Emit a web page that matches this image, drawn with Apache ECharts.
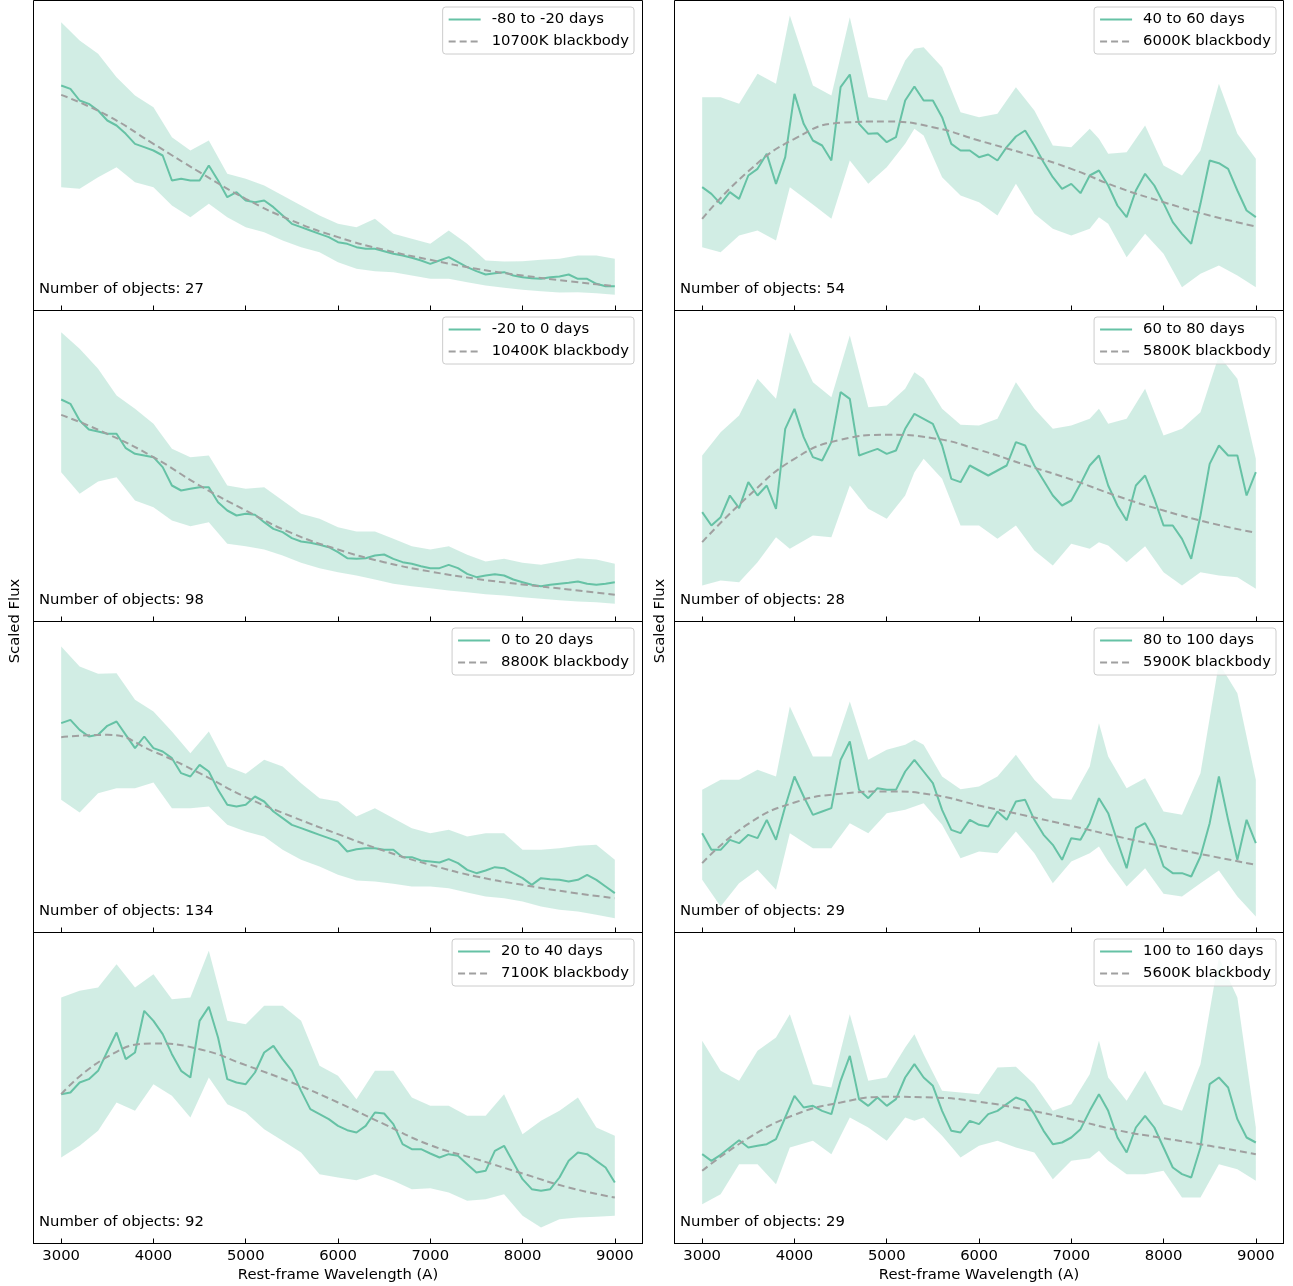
<!DOCTYPE html>
<html><head><meta charset="utf-8">
<script src="https://cdn.jsdelivr.net/npm/echarts@6/dist/echarts.min.js"></script>
<style>html,body{margin:0;padding:0;background:#fff}#c{width:1293px;height:1286px}</style>
</head><body><div id="c"></div>
<script>
// ---------- DATA (flux in arbitrary scaled units) ----------
const wave = [3000,3100,3200,3300,3400,3500,3600,3700,3800,3900,4000,4100,4200,4300,4400,4500,4600,4700,4800,4900,5000,5100,5200,5300,5400,5500,5600,5700,5800,5900,6000,6100,6200,6300,6400,6500,6600,6700,6800,6900,7000,7100,7200,7300,7400,7500,7600,7700,7800,7900,8000,8100,8200,8300,8400,8500,8600,8700,8800,8900,9000];
const bandWaveL = [3000,3200,3400,3600,3800,4000,4200,4400,4600,4800,5000,5200,5400,5600,5800,6000,6200,6400,6600,6800,7000,7200,7400,7600,7800,8000,8200,8400,8600,8800,9000];
const bandWaveR = [3000,3200,3400,3600,3800,3950,4200,4400,4600,4800,5000,5200,5300,5400,5600,5800,6000,6200,6400,6600,6800,7000,7200,7300,7400,7600,7800,8000,8200,8400,8600,8800,9000];
const bbWave = [3000,3500,4000,4500,5000,5500,6000,6500,7000,7500,8000,8500,9000];
const tickValues = [3000,4000,5000,6000,7000,8000,9000];

const periodLabels = ['-80 to -20 days','-20 to 0 days','0 to 20 days','20 to 40 days','40 to 60 days','60 to 80 days','80 to 100 days','100 to 160 days'];
const bbLabels = ['10700K blackbody','10400K blackbody','8800K blackbody','7100K blackbody','6000K blackbody','5800K blackbody','5900K blackbody','5600K blackbody'];
const objectCounts = [27,98,134,92,54,28,29,29];

const p1Mean = [675,665,630,620,600,570,555,530,500,490,480,465,390,395,390,390,435,390,340,355,330,325,330,310,285,260,250,240,230,220,205,200,190,185,185,178,170,165,158,150,140,150,160,145,130,118,108,112,115,105,100,97,95,100,102,108,95,95,80,73,73];
const p1BB = [647,585,500,415,335,270,220,182,152,125,105,88,73];
const p1Upper = [865,810,770,700,645,610,520,480,510,410,395,375,345,315,285,260,250,275,230,215,200,240,200,150,147,148,152,155,165,165,155];
const p1Lower = [370,365,400,430,385,370,315,280,320,280,250,235,210,190,175,145,125,118,115,105,95,95,85,75,68,62,58,54,55,52,47];

const p2Mean = [666,653,603,576,570,563,563,520,503,498,493,463,408,393,398,403,403,358,333,318,323,320,298,278,268,250,240,236,230,223,208,190,188,190,198,201,188,178,173,166,160,160,170,160,143,133,138,142,138,126,118,110,106,110,113,116,120,113,110,113,118];
const p2BB = [620,563,493,408,333,265,216,178,150,128,111,96,80];
const p2Upper = [868,818,758,678,638,593,518,493,498,408,398,403,363,323,308,283,270,270,248,226,216,226,200,180,188,176,170,180,190,186,173];
const p2Lower = [448,383,420,433,363,343,303,286,298,233,226,216,198,176,160,148,138,126,113,106,100,93,88,82,78,73,68,64,60,58,53];

const p3Mean = [628,638,608,588,593,620,633,593,553,588,553,543,523,478,468,503,483,428,383,378,383,408,393,363,343,323,313,303,293,283,273,243,250,253,253,248,248,226,226,216,213,210,220,208,188,178,186,196,193,178,163,143,163,160,158,153,158,173,158,138,118];
const p3BB = [586,593,543,478,406,348,295,245,203,168,143,121,103];
const p3Upper = [858,798,776,778,698,663,603,538,603,498,476,518,498,448,403,393,348,373,343,313,298,308,288,298,298,248,248,253,260,263,218];
const p3Lower = [398,360,418,433,433,450,373,373,378,323,303,288,248,218,198,173,156,153,146,138,138,133,120,108,103,93,78,68,63,53,43];

const p4Mean = [448,453,483,493,518,576,633,553,573,698,668,628,568,518,498,668,710,618,493,483,478,513,573,593,553,518,458,403,388,373,353,340,333,353,393,390,358,298,283,283,270,258,268,263,238,213,218,278,293,243,193,163,158,163,198,248,273,268,248,228,183];
const p4BB = [448,560,600,583,535,483,423,358,295,253,210,168,138];
const p4Upper = [738,758,768,838,768,808,733,738,878,668,658,713,713,668,533,503,433,518,518,438,413,413,383,383,448,328,368,398,438,348,323];
const p4Lower = [258,293,338,423,398,478,443,378,498,418,393,343,308,273,208,198,190,208,188,163,166,153,128,133,148,83,48,73,78,80,83];

const p5Mean = [370,350,320,355,335,405,425,470,380,460,650,560,510,495,450,670,708,560,530,532,505,520,630,672,630,630,580,500,480,480,460,468,450,490,522,540,495,445,400,365,380,352,405,420,375,315,280,360,410,375,322,265,230,200,320,450,442,425,360,300,280];
const p5BB = [275,418,515,563,567,550,510,470,425,370,325,285,252];
const p5Upper = [640,640,620,710,680,885,675,645,880,640,630,750,785,790,730,595,580,590,670,600,495,490,545,515,470,475,555,435,405,480,680,530,455];
const p5Lower = [190,175,225,240,210,370,318,275,450,380,430,500,545,525,400,345,325,285,380,290,245,225,245,280,260,160,230,170,70,110,135,105,70];

const p6Mean = [328,288,313,378,340,418,378,408,338,578,638,553,493,483,538,688,668,498,508,518,503,513,578,623,608,593,528,428,418,468,453,438,453,468,538,528,468,423,378,348,363,413,468,498,408,348,303,408,438,368,288,288,248,188,318,473,528,498,498,378,448];
const p6BB = [238,376,488,545,560,550,515,470,426,376,333,296,266];
const p6Upper = [498,568,618,728,668,868,718,673,858,643,648,698,748,728,638,590,588,608,718,638,578,588,608,638,593,608,698,558,578,628,798,728,488];
const p6Lower = [108,123,118,178,253,218,258,253,408,338,308,378,448,488,428,288,288,248,288,213,168,233,218,238,228,178,226,148,108,148,138,133,98];

const p7Mean = [298,248,248,278,268,293,283,338,278,378,468,408,353,363,373,518,573,428,403,433,428,428,483,518,483,448,368,308,298,338,323,318,363,338,393,398,338,293,263,218,283,278,328,403,358,273,193,313,328,278,198,178,178,168,228,328,468,338,218,338,268];
const p7BB = [208,326,390,416,423,413,381,351,320,288,258,230,203];
const p7Upper = [428,458,458,488,468,678,528,528,693,518,548,563,578,563,468,430,438,468,533,458,403,398,498,628,528,433,463,363,353,478,808,718,458];
const p7Lower = [158,78,148,188,128,298,253,253,328,298,358,368,378,388,323,223,243,238,303,238,148,213,238,258,213,138,193,116,108,148,186,108,48];

const p8Mean = [268,248,266,288,310,288,293,298,313,378,443,408,413,398,388,488,563,433,413,438,413,433,498,538,498,473,398,338,333,368,358,388,398,418,438,428,388,338,298,303,318,343,398,448,398,318,273,348,383,348,288,228,208,198,288,478,498,468,373,318,303];
const p8BB = [218,316,386,423,440,438,425,402,373,340,316,293,268];
const p8Upper = [608,518,488,578,618,688,478,468,688,488,498,588,628,568,458,453,448,528,530,478,398,418,508,608,498,428,518,418,398,538,858,738,348];
const p8Lower = [118,148,238,238,178,288,308,268,378,348,308,378,368,378,323,258,293,308,288,273,193,248,256,278,248,208,208,218,138,138,238,223,188];

// ---------- BUILD ----------
const FONT = '"DejaVu Sans", sans-serif';
const FS = 14.8;
const TEAL = '#66c2a5';
const BAND = 'rgba(102,194,165,0.3)';
const GREY = '#a0a0a0';

const panels = [
  [p1Mean,p1BB,p1Upper,p1Lower,bandWaveL],
  [p2Mean,p2BB,p2Upper,p2Lower,bandWaveL],
  [p3Mean,p3BB,p3Upper,p3Lower,bandWaveL],
  [p4Mean,p4BB,p4Upper,p4Lower,bandWaveL],
  [p5Mean,p5BB,p5Upper,p5Lower,bandWaveR],
  [p6Mean,p6BB,p6Upper,p6Lower,bandWaveR],
  [p7Mean,p7BB,p7Upper,p7Lower,bandWaveR],
  [p8Mean,p8BB,p8Upper,p8Lower,bandWaveR]
];

const rowTop = [0.5, 310.5, 621.5, 932.5];
const rowH = [310, 311, 311, 311];
const yMax = [930, 933, 933, 933];
const colLeft = [33.5, 674.5];
const plotW = 609;

const grid = [], xAxis = [], yAxis = [], series = [], legend = [], graphic = [];

function bandRenderer(bw, lo, up) {
  return function (params, api) {
    if (params.dataIndex !== 0) return null;
    const pts = [];
    for (let k = 0; k < bw.length; k++) pts.push(api.coord([bw[k], up[k]]));
    for (let k = bw.length - 1; k >= 0; k--) pts.push(api.coord([bw[k], lo[k]]));
    return {type: 'polygon', shape: {points: pts}, style: {fill: BAND, stroke: null}, silent: true};
  };
}

panels.forEach((p, i) => {
  const col = Math.floor(i / 4), row = i % 4;
  const [mean, bb, up, lo, bw] = p;
  grid.push({left: colLeft[col], top: rowTop[row], width: plotW, height: rowH[row],
    show: true, borderColor: '#000', borderWidth: 1, backgroundColor: 'transparent', containLabel: false});
  xAxis.push({gridIndex: i, type: 'value', min: 2700, max: 9300,
    axisLine: {show: true, lineStyle: {color: '#000', width: 1}},
    axisTick: {show: true, inside: true, length: 5, lineStyle: {color: '#000', width: 1}, customValues: tickValues},
    axisLabel: {show: row === 3, customValues: tickValues, color: '#000', fontFamily: FONT, fontSize: FS, margin: 5,
      formatter: v => String(v)},
    splitLine: {show: false}});
  yAxis.push({gridIndex: i, type: 'value', min: 0, max: yMax[row], show: false, splitLine: {show: false}});

  series.push({type: 'custom', xAxisIndex: i, yAxisIndex: i, silent: true, z: 1,
    data: bw.map((w, k) => [w, lo[k], up[k]]),
    encode: {x: 0, y: [1, 2]},
    renderItem: bandRenderer(bw, lo, up)});
  series.push({name: periodLabels[i], type: 'line', xAxisIndex: i, yAxisIndex: i, silent: true,
    data: wave.map((w, k) => [w, mean[k]]), symbol: 'none', showSymbol: false,
    lineStyle: {color: TEAL, width: 2}, itemStyle: {color: TEAL}, z: 3});
  series.push({name: bbLabels[i], type: 'line', xAxisIndex: i, yAxisIndex: i, silent: true,
    data: bbWave.map((w, k) => [w, bb[k]]), symbol: 'none', showSymbol: false, smooth: true,
    lineStyle: {color: GREY, width: 2, type: [7, 4]}, itemStyle: {color: GREY}, z: 4});

  legend.push({show: true, orient: 'vertical', right: col ? 17 : 659, top: rowTop[row] + 6.5,
    data: [periodLabels[i], bbLabels[i]], selectedMode: false,
    itemWidth: 32, itemHeight: 14, itemGap: 7, padding: [5, 5, 5, 5],
    itemStyle: {opacity: 0},
    borderColor: '#cccccc', borderWidth: 1, borderRadius: 3, backgroundColor: 'rgba(255,255,255,0.8)',
    textStyle: {color: '#000', fontFamily: FONT, fontSize: FS, padding: [0, 0, 0, 6]}});

  graphic.push({type: 'text', x: colLeft[col] + 5.5, y: rowTop[row] + rowH[row] - 21,
    style: {text: 'Number of objects: ' + objectCounts[i], fill: '#000', font: FS + 'px ' + FONT,
      textAlign: 'left', textVerticalAlign: 'middle', align: 'left', verticalAlign: 'middle'}});
});

[0, 1].forEach(col => {
  graphic.push({type: 'text', x: col ? 660 : 15, y: 621, rotation: Math.PI / 2,
    style: {text: 'Scaled Flux', fill: '#000', font: FS + 'px ' + FONT,
      textAlign: 'center', textVerticalAlign: 'middle', align: 'center', verticalAlign: 'middle'}});
  graphic.push({type: 'text', x: colLeft[col] + plotW / 2, y: 1275,
    style: {text: 'Rest-frame Wavelength (A)', fill: '#000', font: FS + 'px ' + FONT,
      textAlign: 'center', textVerticalAlign: 'middle', align: 'center', verticalAlign: 'middle'}});
});

const chart = echarts.init(document.getElementById('c'), null, {renderer: 'canvas'});
chart.setOption({animation: false, backgroundColor: '#fff', grid, xAxis, yAxis, series, legend, graphic});
</script>
</body></html>
